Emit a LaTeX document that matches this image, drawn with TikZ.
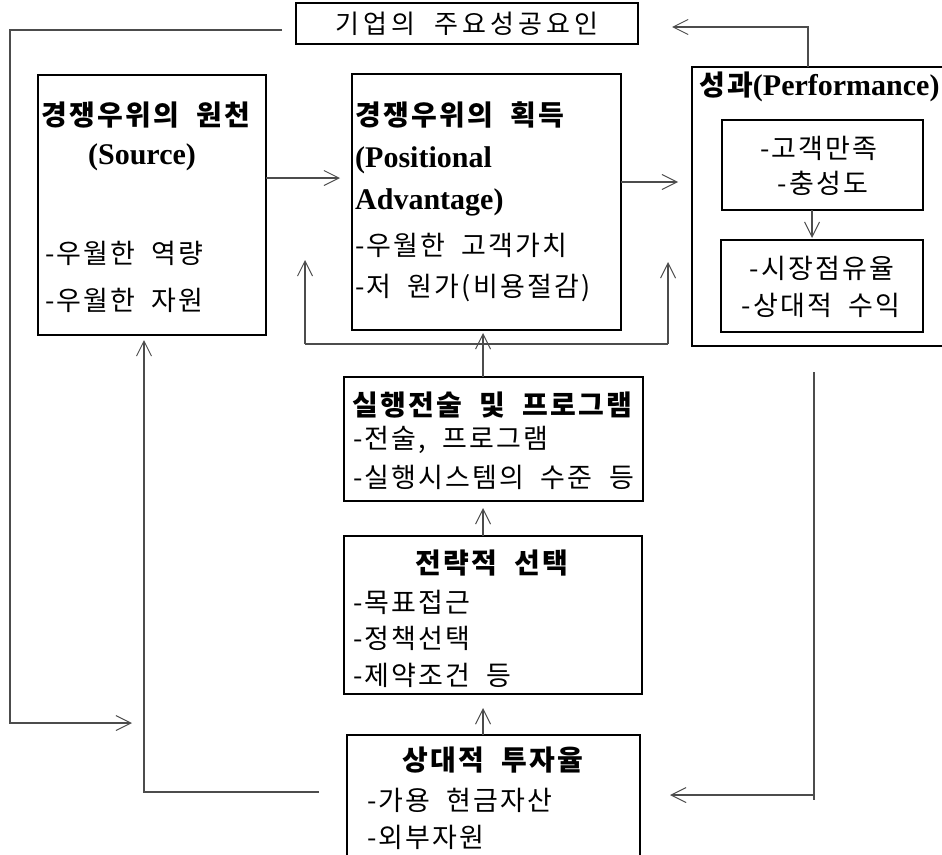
\documentclass[tikz,border=0pt]{standalone}
\usepackage{fontspec}
\usetikzlibrary{arrows.meta,calc}
\newfontfamily\kr{Noto Sans CJK KR}[WordSpace=2, LetterSpace=8]
\newfontfamily\krwide{Noto Sans CJK KR}[WordSpace=2, LetterSpace=15]
\newfontfamily\lat{Liberation Serif}
\begin{document}
\begin{tikzpicture}[x=1pt,y=-1pt,
  frame/.style={draw=black, line width=1.3pt, inner sep=0pt, outer sep=0pt},
  conn/.style={draw=black!70, line width=1.1pt},
  tip/.style={conn, -{Straight Barb[length=15pt,width=15pt,line width=1pt]}},
  txt/.style={inner sep=0pt, font=\kr\fontsize{27}{31}\selectfont},
  ttl/.style={inner sep=0pt, font=\kr\bfseries\fontsize{28}{32}\selectfont},
  ltl/.style={inner sep=0pt, font=\lat\bfseries\fontsize{30}{34}\selectfont},
]
\useasboundingbox (0,0) rectangle (942,854);

% boxes
\node[frame, minimum width=342pt, minimum height=41pt] (top) at (467,23.5) {};
\node[frame, minimum width=228pt, minimum height=260pt] (src) at (152,205) {};
\node[frame, minimum width=269pt, minimum height=256pt] (pos) at (486.5,202) {};
\node[frame, minimum width=254pt, minimum height=279pt] (perf) at (819,206.5) {};
\node[frame, minimum width=201pt, minimum height=90pt] (perfA) at (822.5,165) {};
\node[frame, minimum width=202pt, minimum height=92pt] (perfB) at (822,286) {};
\node[frame, minimum width=299pt, minimum height=124pt] (tac) at (493.5,439) {};
\node[frame, minimum width=298pt, minimum height=158pt] (str) at (493,615) {};
\node[frame, minimum width=293pt, minimum height=135pt] (inv) at (493.5,802.5) {};

% texts
\node[inner sep=0pt, font=\krwide\fontsize{26}{30}\selectfont] (topT) at (467,24) {기업의 주요성공요인};

\node[ttl] (srcT) at (146,115) {경쟁우위의 원천};
\node[ltl] (srcS) at (142,157) {(Source)};
\node[txt, anchor=west] (src1) at (45,253) {-우월한 역량};
\node[txt, anchor=west] (src2) at (45,300) {-우월한 자원};

\node[ttl, anchor=west] (posT) at (355,115) {경쟁우위의 획득};
\node[ltl, anchor=west] (posP) at (355,160) {(Positional};
\node[ltl, anchor=west] (posA) at (355,202) {Advantage)};
\node[txt, anchor=west] (pos1) at (355,245) {-우월한 고객가치};
\node[txt, anchor=west] (pos2) at (355,288) {-저 원가(비용절감)};

\node[inner sep=0pt, anchor=west] (perfT) at (699,87)
  {{\kr\bfseries\fontsize{28}{32}\selectfont 성과}{\lat\bfseries\fontsize{30}{34}\selectfont (Performance)}};
\node[txt] (perfA1) at (819,148) {-고객만족};
\node[txt] (perfA2) at (823,183) {-충성도};
\node[txt] (perfB1) at (822,268) {-시장점유율};
\node[txt] (perfB2) at (821,305) {-상대적 수익};

\node[ttl] (tacT) at (492,405) {실행전술 및 프로그램};
\node[txt, anchor=west] (tac1) at (353,440) {-전술, 프로그램};
\node[txt, anchor=west] (tac2) at (353,477) {-실행시스템의 수준 등};

\node[ttl] (strT) at (492,563) {전략적 선택};
\node[txt, anchor=west] (str1) at (353,602) {-목표접근};
\node[txt, anchor=west] (str2) at (353,638) {-정책선택};
\node[txt, anchor=west] (str3) at (353,675) {-제약조건 등};

\node[ttl] (invT) at (493,760) {상대적 투자율};
\node[txt, anchor=west] (inv1) at (367,800) {-가용 현금자산};
\node[txt, anchor=west] (inv2) at (367,837) {-외부자원};

% routing points
\coordinate (L1) at (10,30);
\coordinate (L2) at (10,723);
\coordinate (L3) at (132,723);
\coordinate (R1) at (808,27);
\coordinate (A1) at (0,178);
\coordinate (A2) at (0,182);
\coordinate (B1) at (305,344);
\coordinate (B2) at (668,344);
\coordinate (M) at (483,0);
\coordinate (P) at (812,0);
\coordinate (R2) at (814,372);
\coordinate (R3) at (814,795);
\coordinate (R4) at (814,800);
\coordinate (C1) at (144,792);

% connectors
\draw[tip, shorten <=14pt] (top.west |- L1) -- (L1) -- (L2) -- (L3);
\draw[tip, shorten >=34pt] (perf.north -| R1) -- (R1) -- (top.east |- R1);
\draw[tip, shorten >=12pt] (src.east |- A1) -- (pos.west |- A1);
\draw[tip, shorten >=14pt] (pos.east |- A2) -- (perf.west |- A2);
\draw[conn] (B1) -- (B2);
\draw[tip] (B1) -- ++(0,-84);
\draw[tip] (B2) -- ++(0,-82);
\draw[tip, shorten >=3pt] (tac.north -| M) -- (pos.south -| M);
\draw[tip, shorten >=7pt] (str.north -| M) -- (tac.south -| M);
\draw[tip, shorten >=14pt] (inv.north -| M) -- (str.south -| M);
\draw[tip, shorten >=2pt] (perfA.south -| P) -- (perfB.north -| P);
\draw[conn, shorten <=26pt] (perf.south -| R2) -- (R4);
\draw[tip, shorten >=30pt] (R3) -- (inv.east |- R3);
\draw[tip, shorten <=28pt, shorten >=5pt] (inv.west |- C1) -- (C1) -- (src.south -| C1);
\end{tikzpicture}
\end{document}
